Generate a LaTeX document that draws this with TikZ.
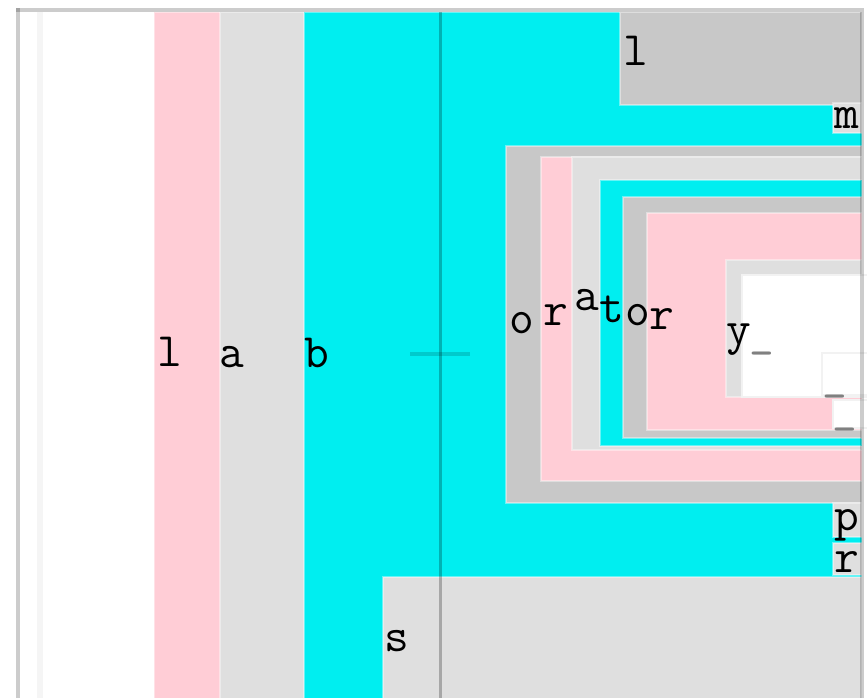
\documentclass[tikz,border=0pt]{standalone}
\definecolor{boxpink}{RGB}{255,205,214}
\definecolor{boxlight}{RGB}{223,223,223}
\definecolor{boxgray}{RGB}{200,200,200}
\definecolor{boxcyan}{RGB}{0,238,240}

\begin{document}
\begin{tikzpicture}[x=0.75pt, y=-0.75pt,
    box/.style={draw=white, draw opacity=0.4, line width=2pt},
    lbl/.style={anchor=base, inner sep=0pt, font=\fontsize{36}{36}\selectfont\ttfamily}]
    \useasboundingbox (0,0) rectangle (867,697);
    \clip (0,0) rectangle (867,697);
    % Outer frame
    \fill[white] (18,10) rectangle (862,710);
    \draw[gray!8, line width=4pt] (40,12) -- (40,710);
    % Left bands
    \filldraw[box, fill=boxpink] (154,12) rectangle (862,710);
    \filldraw[box, fill=boxlight] (220,12) rectangle (862,710);
    \filldraw[box, fill=boxcyan] (304,12) rectangle (862,710);
    % Top block
    \filldraw[box, fill=boxgray] (620,12) rectangle (862,105);
    \filldraw[box, fill=boxlight] (833,103) rectangle (862,133);
    % Nested blocks
    \filldraw[box, fill=boxgray] (506,146) rectangle (862,503);
    \filldraw[box, fill=boxpink] (541,157) rectangle (862,481);
    \filldraw[box, fill=boxlight] (572,157) rectangle (862,450);
    \filldraw[box, fill=boxcyan] (600,180) rectangle (862,446);
    \filldraw[box, fill=boxgray] (623,197) rectangle (862,438);
    \filldraw[box, fill=boxpink] (647,213) rectangle (862,430);
    \filldraw[box, fill=boxlight] (726,260) rectangle (862,397);
    \filldraw[draw=gray!10, line width=2pt, fill=white] (742,275) rectangle (870,397);
    \filldraw[draw=gray!10, line width=2pt, fill=white] (822,353) rectangle (870,395);
    \filldraw[draw=gray!10, line width=2pt, fill=white] (833,400) rectangle (870,428);
    % Side tags
    \filldraw[box, fill=boxlight] (833,503) rectangle (862,537);
    \filldraw[box, fill=boxlight] (833,543) rectangle (862,575);
    % Bottom block
    \filldraw[box, fill=boxlight] (383,577) rectangle (862,710);
    % Rules
    \draw[black, opacity=0.25, line width=2.25pt] (440,12) -- (440,710);
    \draw[black, opacity=0.15, line width=3.5pt] (410,354) -- (470,354);
    \draw[black, opacity=0.2, line width=3pt] (18,8) -- (18,710);
    \draw[black, opacity=0.2, line width=3pt] (16,10) -- (864,10);
    \draw[black, opacity=0.2, line width=2.5pt] (862,12) -- (862,710);
    % Labels
    \node[lbl] (l1) at (170,366) {l};
    \node[lbl] (a1) at (232,367) {a};
    \node[lbl] (b1) at (317,367) {b};
    \node[lbl] (l2) at (636,65) {l};
    \node[lbl] (m1) at (847,128) {m};
    \node[lbl] (o1) at (522,333) {o};
    \node[lbl] (r1) at (556,325) {r};
    \node[lbl] (a2) at (587,310) {a};
    \node[lbl] (t1) at (612,322) {t};
    \node[lbl] (o2) at (638,325) {o};
    \node[lbl] (r2) at (662,329) {r};
    \node[lbl] (y1) at (739,344) {y};
    \node[lbl, gray] (u0) at (762,345) {\_};
    \node[lbl, gray] (u1) at (835,388) {\_};
    \node[lbl, gray] (u2) at (845,421) {\_};
    \node[lbl] (p1) at (847,530) {p};
    \node[lbl] (r3) at (847,572) {r};
    \node[lbl] (s1) at (397,651) {s};
\end{tikzpicture}
\end{document}
